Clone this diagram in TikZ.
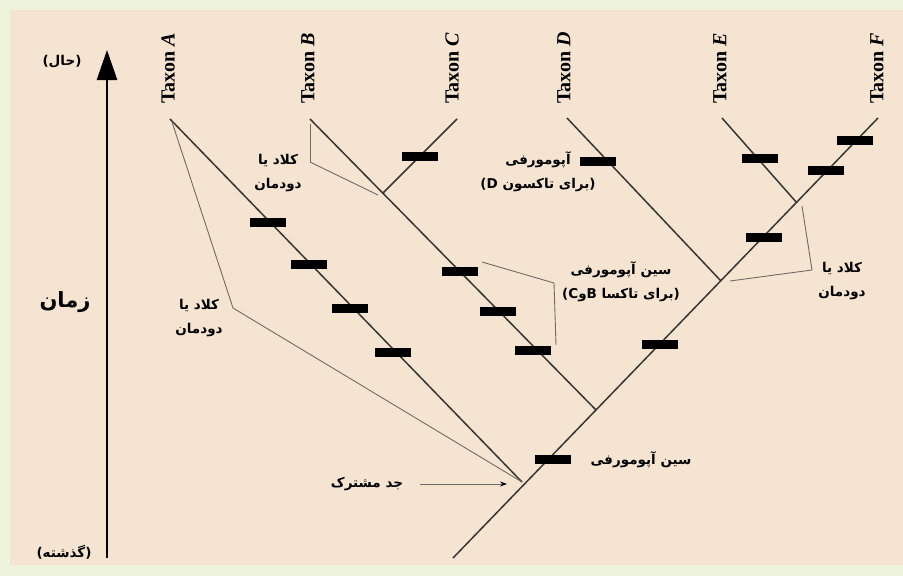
\documentclass[tikz,border=0pt]{standalone}
\usepackage{fontspec}
\setmainfont{Liberation Serif}
\newfontfamily\arabicfont[Script=Arabic]{DejaVu Sans}
\TeXXeTstate=1
\usetikzlibrary{arrows.meta}
\definecolor{paper}{HTML}{F6E4D2}
\definecolor{rim}{HTML}{EEF3DC}
\definecolor{branchcol}{HTML}{383533}
\definecolor{guidecol}{HTML}{706A64}
\begin{document}
\begin{tikzpicture}[x=1pt,y=-1pt,
  branch/.style={draw=branchcol,line width=1.5pt},
  guide/.style={draw=guidecol,line width=0.9pt},
  bar/.style={fill=black,minimum width=36pt,minimum height=9pt,inner sep=0pt},
  taxon/.style={rotate=90,anchor=west,inner sep=0pt,font=\fontsize{20}{22}\selectfont\bfseries},
  fa/.style={align=center,inner sep=0pt,font=\arabicfont\bfseries\fontsize{13.5}{24}\selectfont}]
  \useasboundingbox (0,0) rectangle (903,576);
  \fill[rim] (0,0) rectangle (903,576);
  \fill[paper] (10,10) rectangle (903,565);

  % time axis
  \coordinate (past) at (107,558);
  \coordinate (now) at (107,50);
  \draw[line width=2.6pt,-{Triangle[length=30pt,width=20pt]}] (past) -- (now);
  \node[fa] (nowlbl) at (62,62) {\beginR(حال)\endR};
  \node[fa] (pastlbl) at (64,552) {\beginR(گذشته)\endR};
  \node[fa,font=\arabicfont\bfseries\fontsize{21}{24}\selectfont] (time) at (65,302) {\beginR زمان\endR};

  % taxa
  \node[taxon] (lA) at (168,104) {Taxon \textit{A}};
  \node[taxon] (lB) at (308,104) {Taxon \textit{B}};
  \node[taxon] (lC) at (452,104) {Taxon \textit{C}};
  \node[taxon] (lD) at (564,104) {Taxon \textit{D}};
  \node[taxon] (lE) at (720,104) {Taxon \textit{E}};
  \node[taxon] (lF) at (877,104) {Taxon \textit{F}};

  % tips and forks
  \coordinate (tA) at (170,119);
  \coordinate (tB) at (310,119);
  \coordinate (tC) at (457,119);
  \coordinate (tD) at (567,118);
  \coordinate (tE) at (722,118);
  \coordinate (tF) at (878,118);
  \coordinate (base) at (453,558);
  \coordinate (root) at (522,482);
  \coordinate (jBC) at (596,410);
  \coordinate (jBC2) at (383,193);
  \coordinate (jD) at (721,281);
  \coordinate (jEF) at (797,203);

  \path[branch] (base) edge (tF);
  \path[branch] (tA) edge (root);
  \path[branch] (tB) edge (jBC);
  \path[branch] (tC) edge (jBC2);
  \path[branch] (tD) edge (jD);
  \path[branch] (tE) edge (jEF);

  % character bars
  \node[bar] (a1) at (268,222) {};
  \node[bar] (a2) at (309,264) {};
  \node[bar] (a3) at (350,308) {};
  \node[bar] (a4) at (393,352) {};
  \node[bar] (c1) at (420,156) {};
  \node[bar] (b1) at (460,271) {};
  \node[bar] (b2) at (498,311) {};
  \node[bar] (b3) at (533,350) {};
  \node[bar] (d1) at (598,161) {};
  \node[bar] (e1) at (760,158) {};
  \node[bar] (f1) at (826,170) {};
  \node[bar] (f2) at (855,140) {};
  \node[bar] (s1) at (553,459) {};
  \node[bar] (s2) at (660,344) {};
  \node[bar] (s3) at (764,237) {};

  % clade brackets
  \coordinate (gA) at (233,308);
  \path[guide] (172,122) edge (gA) (gA) edge (root);
  \coordinate (gB) at (310,162);
  \path[guide] (310,124) edge (gB) (gB) edge (378,195);
  \coordinate (gEF1) at (802,206);
  \coordinate (gEF2) at (812,270);
  \path[guide] (gEF1) edge (gEF2) (gEF2) edge (730,281);
  \coordinate (gS1) at (482,262);
  \coordinate (gS2) at (554,283);
  \path[guide] (gS1) edge (gS2) (gS2) edge (556,345);

  % labels
  \node[fa] (cladeA) at (199,318) {\beginR کلاد یا\endR\\\beginR دودمان\endR};
  \node[fa] (cladeBC) at (278,173) {\beginR کلاد یا\endR\\\beginR دودمان\endR};
  \node[fa] (cladeEF) at (842,281) {\beginR کلاد یا\endR\\\beginR دودمان\endR};
  \node[fa] (apoD) at (538,172) {\beginR آپومورفی\endR\\\beginR(برای تاکسون (D\endR};
  \node[fa] (synBC) at (621,282) {\beginR سین آپومورفی\endR\\\beginR(برای تاکسا (CوB\endR};
  \node[fa] (synRoot) at (641,460) {\beginR سین آپومورفی\endR};
  \node[fa] (ancestor) at (367,484) {\beginR جد مشترک\endR};
  \coordinate (arrS) at (420,484);
  \draw[guidecol,line width=1pt,-{Stealth[length=7pt,width=5pt,color=black]}] (arrS) -- (507,484);
\end{tikzpicture}
\end{document}
